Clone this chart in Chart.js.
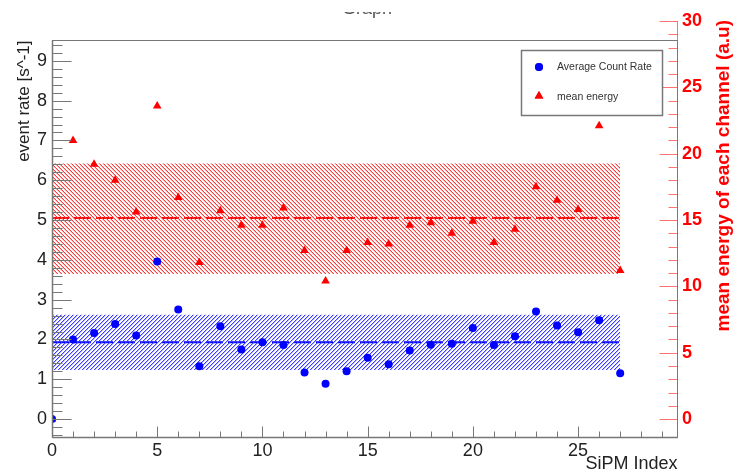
<!DOCTYPE html>
<html>
<head>
<meta charset="utf-8">
<script src="https://cdn.jsdelivr.net/npm/chart.js@4.4.1/dist/chart.umd.min.js"></script>
<style>
  html, body { margin: 0; padding: 0; background: #fff; }
  #graph { display: block; }
</style>
</head>
<body>
<canvas id="graph" width="733" height="471"></canvas>
<script>
// datos
const sipmIndex = [0, 1, 2, 3, 4, 5, 6, 7, 8, 9, 10, 11, 12, 13, 14, 15, 16, 17, 18, 19, 20, 21, 22, 23, 24, 25, 26, 27];
const countRate = [0, 2.00, 2.16, 2.39, 2.10, 3.96, 2.75, 1.33, 2.33, 1.75, 1.93, 1.86, 1.17, 0.89, 1.20,
                   1.54, 1.38, 1.72, 1.87, 1.89, 2.29, 1.86, 2.08, 2.70, 2.35, 2.18, 2.48, 1.15];
const meanEnergy = [0, 21.0, 19.2, 18.0, 15.6, 23.6, 16.7, 11.8, 15.7, 14.6, 14.6, 15.9, 12.7, 10.4, 12.7,
                    13.3, 13.2, 14.6, 14.8, 14.0, 14.9, 13.3, 14.3, 17.5, 16.5, 15.8, 22.1, 11.2];
// banda: [bajo, media, alto]
const rateBand = [1.23, 1.93, 2.62];
const energyBand = [10.93, 15.15, 19.27];
const bandSpan = [0, 27];
const xTicks = [0, 5, 10, 15, 20, 25];
const rateTicks = [0, 1, 2, 3, 4, 5, 6, 7, 8, 9];
const energyTicks = [0, 5, 10, 15, 20, 25, 30];
const legendLabels = ['Average Count Rate', 'mean energy'];

const FONT = '"Liberation Sans", Arial, Helvetica, sans-serif';
const rateTop = 9.52;   // borde superior del marco en unidades del eje izquierdo

// patron de rayado diagonal (linea de 1px con borde suavizado)
function hatch(r, g_, b, rising) {
    const s = 4;
    const c = document.createElement('canvas');
    c.width = s; c.height = s;
    const g = c.getContext('2d');
    for (let i = 0; i < s; i++) {
        const yy = rising ? s - 1 - i : i;
        g.fillStyle = `rgb(${r},${g_},${b})`;
        g.fillRect(i, yy, 1, 1);
        g.fillStyle = `rgba(${r},${g_},${b},0.35)`;
        g.fillRect(i, (yy + 1) % s, 1, 1);
    }
    return g.createPattern(c, 'repeat');
}

const ctx = document.getElementById('graph').getContext('2d');
const points = ys => sipmIndex.map((x, i) => ({ x: x, y: ys[i] }));
const flat = v => bandSpan.map(x => ({ x: x, y: v }));

// marco, marcas de los ejes y textos al estilo ROOT
const rootFrame = {
    id: 'rootFrame',
    afterDraw(chart) {
        const c = chart.ctx;
        const { x, y, y2 } = chart.scales;
        const L = Math.round(x.getPixelForValue(x.min)) + 0.5;
        const R = Math.round(x.getPixelForValue(x.max)) + 0.5;
        const T = Math.round(y.getPixelForValue(rateTop)) + 0.5;
        const B = Math.round(y.getPixelForValue(y.min)) + 0.5;
        const line = (x1, y1, x2, y2_) => { c.beginPath(); c.moveTo(x1, y1); c.lineTo(x2, y2_); c.stroke(); };
        c.save();
        c.lineWidth = 1;
        c.strokeStyle = '#777';
        // marcas eje izquierdo
        for (let k = -2; k <= 47; k++) {
            const py = Math.round(y.getPixelForValue(k / 5)) + 0.5;
            line(L, py, L + (k % 5 === 0 ? 19 : 10), py);
        }
        // marcas eje x
        for (let k = 1; k <= 29; k++) {
            const px = Math.round(x.getPixelForValue(k)) + 0.5;
            line(px, B, px, B - (k % 5 === 0 ? 11 : 6));
        }
        // eje derecho rojo
        c.strokeStyle = 'rgba(255,0,0,0.55)';
        for (let k = 0; k <= 30; k++) {
            const py = Math.round(y2.getPixelForValue(k)) + 0.5;
            line(R, py, R - (k % 5 === 0 ? 18 : 9), py);
        }
        line(R, y2.getPixelForValue(0), R, y2.getPixelForValue(30));
        // marco
        c.strokeStyle = '#777';
        c.strokeRect(L, T, R - L, B - T);
        c.lineWidth = 1.5;
        line(L, T, L, B);
        line(L, B, R, B);

        // titulos de ejes
        c.fillStyle = '#222';
        c.font = '18px ' + FONT;
        c.textAlign = 'right';
        c.textBaseline = 'alphabetic';
        c.fillText('SiPM Index', R, 469);
        c.save();
        c.translate(29, T);
        c.rotate(-Math.PI / 2);
        c.font = '17px ' + FONT;
        c.textAlign = 'right';
        c.fillText('event rate [s^-1]', 0, 0);
        c.restore();
        c.save();
        c.translate(729, y2.getPixelForValue(30) - 1);
        c.rotate(-Math.PI / 2);
        c.fillStyle = '#ff0000';
        c.font = 'bold 19px ' + FONT;
        c.textAlign = 'right';
        c.fillText('mean energy of each channel (a.u)', 0, 0);
        c.restore();

        // titulo cortado arriba
        c.save();
        c.beginPath();
        c.rect(0, 12, 733, 8);
        c.clip();
        c.fillStyle = '#555';
        c.font = '18px ' + FONT;
        c.textAlign = 'center';
        c.fillText('Graph', 367, 14);
        c.restore();

        // leyenda
        const lx = 521.5, ly = 50.5, lw = 141, lh = 65;
        c.fillStyle = '#fff';
        c.fillRect(lx, ly, lw, lh);
        c.strokeStyle = '#777';
        c.lineWidth = 1.5;
        c.strokeRect(lx, ly, lw, lh);
        c.font = '10.5px ' + FONT;
        c.textAlign = 'left';
        c.textBaseline = 'middle';
        c.fillStyle = '#333';
        c.fillText(legendLabels[0], 557, 67);
        c.fillText(legendLabels[1], 557, 97);
        const d0 = chart.data.datasets[0], d1 = chart.data.datasets[1];
        Chart.helpers.drawPoint(c, { pointStyle: d0.pointStyle, radius: d0.pointRadius, borderWidth: 0 }, 539, 67);
        c.fillStyle = d0.backgroundColor;
        c.fill();
        c.fillStyle = d1.backgroundColor;
        Chart.helpers.drawPoint(c, { pointStyle: d1.pointStyle, radius: d1.pointRadius, borderWidth: 0 }, 539, 96);
        c.fill();
        c.restore();
    }
};

const noBorder = 'rgba(0,0,0,0)';

const myChart = new Chart(ctx, {
    type: 'line',
    data: {
        datasets: [
            {
                label: legendLabels[0],
                data: points(countRate),
                yAxisID: 'y',
                showLine: false,
                pointStyle: 'circle',
                pointRadius: 4,
                pointHoverRadius: 4,
                backgroundColor: '#0000ff',
                borderColor: '#0000ff',
                pointBorderWidth: 0,
                clip: 0
            },
            {
                label: legendLabels[1],
                data: points(meanEnergy),
                yAxisID: 'y2',
                showLine: false,
                pointStyle: 'triangle',
                pointRadius: 5,
                pointHoverRadius: 5,
                backgroundColor: '#ff0000',
                borderColor: '#ff0000',
                pointBorderWidth: 0,
                clip: 0
            },
            {
                data: flat(rateBand[2]), yAxisID: 'y', pointRadius: 0, borderWidth: 0, borderColor: noBorder,
                fill: '+1', backgroundColor: hatch(60, 60, 255, true)
            },
            { data: flat(rateBand[0]), yAxisID: 'y', pointRadius: 0, borderWidth: 0, borderColor: noBorder, fill: false },
            {
                data: flat(rateBand[1]), yAxisID: 'y', pointRadius: 0, borderWidth: 2,
                borderColor: '#0000ff', borderDash: [17, 5], fill: false
            },
            {
                data: flat(energyBand[2]), yAxisID: 'y2', pointRadius: 0, borderWidth: 0, borderColor: noBorder,
                fill: '+1', backgroundColor: hatch(255, 60, 60, false)
            },
            { data: flat(energyBand[0]), yAxisID: 'y2', pointRadius: 0, borderWidth: 0, borderColor: noBorder, fill: false },
            {
                data: flat(energyBand[1]), yAxisID: 'y2', pointRadius: 0, borderWidth: 2,
                borderColor: '#ff0000', borderDash: [17, 5], fill: false
            }
        ]
    },
    options: {
        responsive: false,
        animation: false,
        devicePixelRatio: 1,
        layout: { padding: { top: 21, left: 0, right: 0, bottom: 0 } },
        plugins: {
            legend: { display: false },
            tooltip: { enabled: false },
            title: { display: false }
        },
        scales: {
            x: {
                type: 'linear',
                min: 0,
                max: 29.7,
                grid: { display: false, drawTicks: false },
                border: { display: false },
                afterBuildTicks: s => { s.ticks = xTicks.map(v => ({ value: v })); },
                afterFit: s => { s.height = 34; },
                ticks: { autoSkip: false, maxRotation: 0, padding: 3, color: '#222', font: { family: FONT, size: 18 } }
            },
            y: {
                position: 'left',
                min: -0.45,
                max: 10,
                grid: { display: false, drawTicks: false },
                border: { display: false },
                afterBuildTicks: s => { s.ticks = rateTicks.map(v => ({ value: v })); },
                afterFit: s => { s.width = 52; },
                ticks: { autoSkip: false, padding: 5, color: '#222', font: { family: FONT, size: 18 } }
            },
            y2: {
                position: 'right',
                min: -1.35,
                max: 30,
                grid: { display: false, drawTicks: false },
                border: { display: false },
                afterBuildTicks: s => { s.ticks = energyTicks.map(v => ({ value: v })); },
                afterFit: s => { s.width = 56; },
                ticks: { autoSkip: false, padding: 5, color: '#ff0000', font: { family: FONT, size: 18, weight: 'bold' } }
            }
        }
    },
    plugins: [rootFrame]
});
</script>
</body>
</html>
